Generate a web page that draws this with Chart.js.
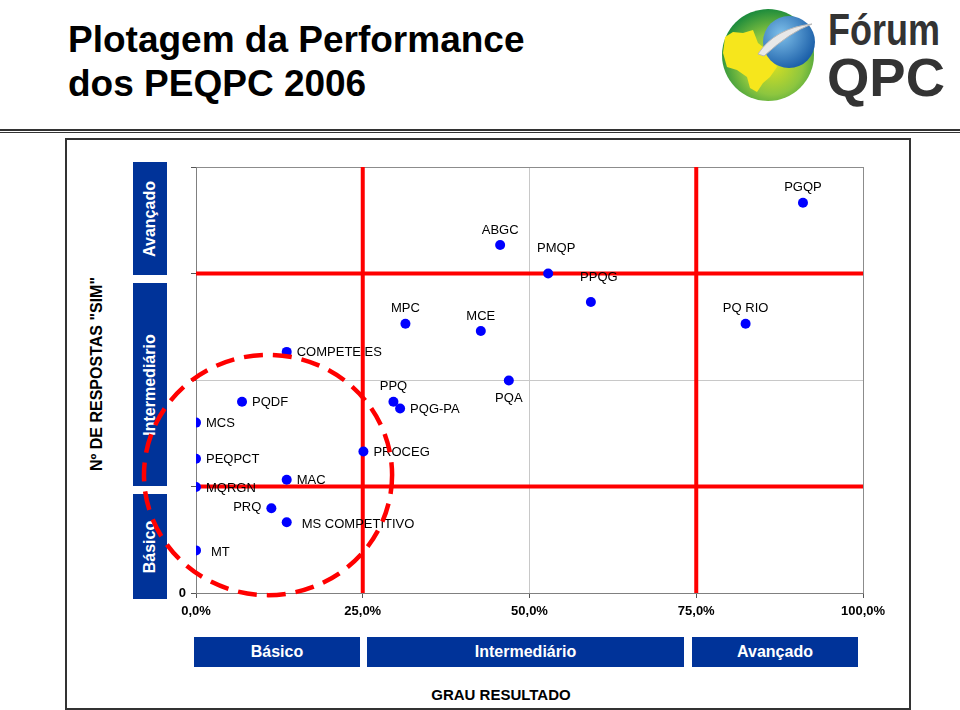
<!DOCTYPE html>
<html>
<head>
<meta charset="utf-8">
<script src="https://cdn.jsdelivr.net/npm/chart.js@4.4.1/dist/chart.umd.min.js"></script>
<style>
  body { margin: 0; width: 960px; height: 710px; background: #fff; position: relative; overflow: hidden;
         font-family: "Liberation Sans", Arial, sans-serif; }
  .abs { position: absolute; }
  .titulo { left: 68px; font-size: 37px; font-weight: bold; color: #000; line-height: 37px; white-space: nowrap; }
  .faixa { background: #003399; color: #fff; font-weight: bold; font-size: 16px;
           display: flex; align-items: center; justify-content: center; white-space: nowrap; }
  .vert span { transform: rotate(-90deg); display: inline-block; }
  #grafico { position: absolute; left: 0; top: 0; pointer-events: none; }
</style>
</head>
<body>
<div class="abs titulo" style="top:21px">Plotagem da Performance</div>
<div class="abs titulo" style="top:65px">dos PEQPC 2006</div>

<svg class="abs" style="left:700px;top:0" width="260" height="110" viewBox="700 0 260 110">
  <defs>
    <radialGradient id="verde" cx="0.55" cy="0.6" r="0.6">
      <stop offset="0" stop-color="#d9e021"/>
      <stop offset="0.55" stop-color="#8dc63f"/>
      <stop offset="1" stop-color="#1e8c3c"/>
    </radialGradient>
    <radialGradient id="azul" cx="0.35" cy="0.35" r="0.7">
      <stop offset="0" stop-color="#7fc0ea"/>
      <stop offset="1" stop-color="#1a5ea8"/>
    </radialGradient>
  </defs>
  <circle cx="768" cy="55" r="46" fill="url(#verde)"/>
  <polygon fill="#f6e61c" points="725,37 733,32 743,33 753,30 758,43 767,50 772,57 777,67 770,77 763,83 757,92 750,88 747,77 737,70 727,67 723,53"/>
  <circle cx="789" cy="42" r="26" fill="url(#azul)"/>
  <path d="M758,54 Q775,28 812,24 Q790,32 764,56 Z" fill="#e8e8e8" stroke="#b8b8b8" stroke-width="1"/>
  <text x="828" y="45" font-size="45" font-weight="bold" fill="#333" textLength="112" lengthAdjust="spacingAndGlyphs"
        font-family="Liberation Sans, Arial">Fórum</text>
  <text x="827" y="96" font-size="53" font-weight="bold" fill="#333" textLength="118" lengthAdjust="spacingAndGlyphs"
        font-family="Liberation Sans, Arial">QPC</text>
</svg>

<div class="abs" style="left:0;top:129px;width:960px;height:2px;background:#333"></div>
<div class="abs" style="left:0;top:132px;width:960px;height:1px;background:#333"></div>
<div class="abs" style="left:65px;top:138px;width:846px;height:572px;border:2px solid #333;box-sizing:border-box"></div>

<div class="abs" style="left:97px;top:374px;width:0;height:0">
  <div style="position:absolute;transform:translate(-50%,-50%) rotate(-90deg);font-weight:bold;font-size:16px;white-space:nowrap">Nº DE RESPOSTAS "SIM"</div>
</div>

<div class="abs faixa vert" style="left:133px;top:162px;width:34px;height:113px"><span>Avançado</span></div>
<div class="abs faixa vert" style="left:133px;top:283px;width:34px;height:203px"><span>Intermediário</span></div>
<div class="abs faixa vert" style="left:133px;top:494px;width:34px;height:105px"><span>Básico</span></div>

<div class="abs faixa" style="left:194px;top:637px;width:166px;height:30px">Básico</div>
<div class="abs faixa" style="left:367px;top:637px;width:317px;height:30px">Intermediário</div>
<div class="abs faixa" style="left:692px;top:637px;width:166px;height:30px">Avançado</div>

<div class="abs" style="left:401px;top:686px;width:200px;text-align:center;font-weight:bold;font-size:15px">GRAU RESULTADO</div>

<canvas id="grafico" width="960" height="710"></canvas>

<script>
const nomes = ['PGQP', 'ABGC', 'PMQP', 'PPQG', 'PQ RIO', 'MCE', 'MPC', 'COMPETE ES', 'PPQ', 'PQG-PA',
               'PQA', 'PQDF', 'MCS', 'PROCEG', 'PEQPCT', 'MAC', 'MQRGN', 'PRQ', 'MS COMPETITIVO', 'MT'];
const grauResultado = [91.0, 45.6, 52.8, 59.2, 82.4, 42.7, 31.4, 13.6, 29.6, 30.6,
                       46.9, 6.9, 0, 25.1, 0, 13.6, 0, 11.3, 13.6, 0];
const respostasSim = [91.6, 81.7, 75.0, 68.3, 63.2, 61.5, 63.2, 56.6, 44.9, 43.3,
                      49.9, 44.9, 40.0, 33.2, 31.5, 26.6, 24.9, 19.9, 16.6, 10.0];
const limites = [25, 75];
const ticksX = ['0,0%', '25,0%', '50,0%', '75,0%', '100,0%'];

// onde fica o nome de cada ponto: a = acima, ar = acima/direita, b = abaixo, l = esquerda, r = direita
const posRotulo = {
  'PGQP': 'a', 'ABGC': 'a', 'PMQP': 'ar', 'PPQG': 'ar', 'PQ RIO': 'a', 'MCE': 'a', 'MPC': 'a',
  'PPQ': 'a', 'PQA': 'b', 'PRQ': 'l', 'MS COMPETITIVO': 'rr', 'MT': 'rr'
};

const fonte = '"Liberation Sans", Arial, sans-serif';
Chart.defaults.font.family = fonte;

const pontos = nomes.map((n, i) => ({ x: grauResultado[i], y: respostasSim[i] }));

const linhas = [];
limites.forEach(v => {
  linhas.push({ data: [{ x: v, y: 0 }, { x: v, y: 100 }] });
  linhas.push({ data: [{ x: 0, y: v }, { x: 100, y: v }] });
});

const rotulos = {
  id: 'rotulos',
  afterDatasetsDraw(chart) {
    const ctx = chart.ctx;
    const meta = chart.getDatasetMeta(0);
    ctx.save();
    ctx.font = '13px ' + fonte;
    ctx.fillStyle = '#000';
    ctx.textBaseline = 'middle';
    meta.data.forEach((pt, i) => {
      const nome = nomes[i];
      const pos = posRotulo[nome] || 'r';
      let x = pt.x, y = pt.y;
      if (pos === 'a') { ctx.textAlign = 'center'; y -= 15; }
      else if (pos === 'ar') { ctx.textAlign = 'center'; x += 8; y -= 25; }
      else if (pos === 'b') { ctx.textAlign = 'center'; y += 18; }
      else if (pos === 'l') { ctx.textAlign = 'right'; x -= 10; y -= 1; }
      else if (pos === 'rr') { ctx.textAlign = 'left'; x += 15; y += 2; }
      else { ctx.textAlign = 'left'; x += 10; y += 1; }
      ctx.fillText(nome, x, y);
    });
    ctx.restore();
  }
};

// circulo tracejado em volta do grupo basico
const elipse = {
  id: 'elipse',
  afterDraw(chart) {
    const sx = chart.scales.x, sy = chart.scales.y;
    const cx = sx.getPixelForValue(10.8), cy = sy.getPixelForValue(27.7);
    const rx = sx.getPixelForValue(10.8 + 18.6) - cx;
    const ry = cy - sy.getPixelForValue(27.7 + 28.2);
    const ctx = chart.ctx;
    ctx.save();
    ctx.strokeStyle = '#ff0000';
    ctx.lineWidth = 4.5;
    ctx.setLineDash([19, 10]);
    ctx.beginPath();
    ctx.ellipse(cx, cy, rx, ry, 0, 0, Math.PI * 2);
    ctx.stroke();
    ctx.restore();
  }
};

new Chart(document.getElementById('grafico'), {
  type: 'scatter',
  data: {
    datasets: [
      {
        data: pontos,
        backgroundColor: '#0000ff',
        borderColor: '#0000ff',
        pointRadius: 5,
        borderWidth: 0
      },
      ...linhas.map(l => ({
        data: l.data,
        showLine: true,
        borderColor: '#ff0000',
        borderWidth: 4,
        pointRadius: 0
      }))
    ]
  },
  options: {
    responsive: false,
    animation: false,
    layout: { padding: { left: 166, right: 97, top: 167, bottom: 87 } },
    plugins: { legend: { display: false }, tooltip: { enabled: false } },
    scales: {
      x: {
        type: 'linear',
        min: 0, max: 100,
        afterFit: s => { s.height = 30; },
        ticks: {
          stepSize: 25,
          padding: 6,
          color: '#000',
          font: { size: 13, weight: 'bold' },
          callback: (v) => ticksX[v / 25]
        },
        grid: {
          color: c => (c.tick && c.tick.value === 100) ? '#8c8c8c' : '#c8c8c8',
          tickColor: '#555',
          tickLength: 5
        },
        border: { color: '#808080', width: 1 }
      },
      y: {
        min: 0, max: 100,
        afterFit: s => { s.width = 30; },
        ticks: {
          stepSize: 25,
          padding: 5,
          color: '#000',
          font: { size: 13, weight: 'bold' },
          callback: v => v === 0 ? '0' : ''
        },
        grid: {
          color: c => (c.tick && c.tick.value === 100) ? '#8c8c8c' : '#c8c8c8',
          tickColor: '#555',
          tickLength: 5
        },
        border: { color: '#808080', width: 1 }
      }
    }
  },
  plugins: [rotulos, elipse]
});
</script>
</body>
</html>
